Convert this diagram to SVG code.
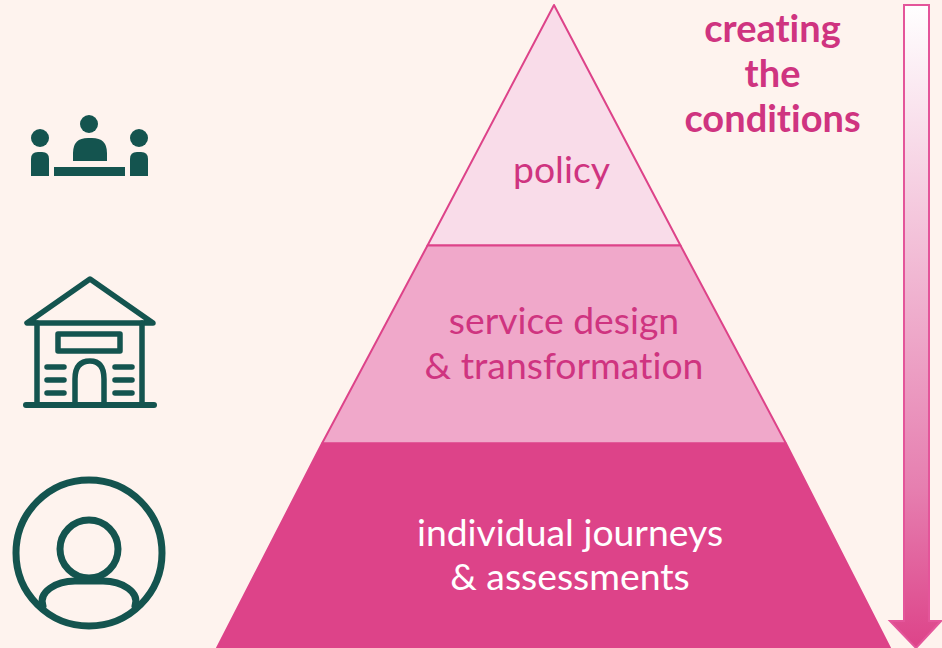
<svg xmlns="http://www.w3.org/2000/svg" width="942" height="648" viewBox="0 0 942 648">
<style>
text{font-family:Lato,"Liberation Sans",sans-serif;font-size:37.33px;text-anchor:middle;font-variant-ligatures:none}
.p{fill:#cf3480}.w{fill:#fff}.b{font-weight:700;font-size:38px}
.t{stroke:#dd4389;stroke-width:2;stroke-linejoin:round}
.o{fill:none;stroke:#14544f;stroke-width:5;stroke-linecap:round;stroke-linejoin:round}
.g{fill:#14544f}
</style>
<defs><linearGradient id="a" x1="0" y1="0" x2="0" y2="1"><stop offset="0" stop-color="#fff"/><stop offset=".75" stop-color="#e67fb0"/><stop offset="1" stop-color="#dd4389"/></linearGradient></defs>
<rect width="942" height="648" fill="#fef3ee"/>
<g id="level-policy"><polygon class="t" points="554,5 680.5,245.5 427.5,245.5" fill="#f9dce9"/><text class="p" x="561.5" y="183">policy</text></g>
<g id="level-service"><polygon class="t" points="427.5,245.5 680.5,245.5 786,443.5 322,443.5" fill="#f0a8ca"/><text class="p" x="564" y="334">service design</text><text class="p" x="564" y="379">&amp; transformation</text></g>
<g id="level-individual"><polygon class="t" points="322,443.5 786,443.5 890,648 217,648" fill="#dd4389"/><text class="w" x="570" y="546">individual journeys</text><text class="w" x="570" y="590">&amp; assessments</text></g>
<g id="label-conditions"><text class="p b" x="772.5" y="42">creating</text><text class="p b" x="772.5" y="87">the</text><text class="p b" x="772.5" y="132">conditions</text></g>
<g id="connectors"><polygon points="904,5 929,5 929,621 941,621 916,648 890,621 904,621" fill="url(#a)" stroke="#e4559a" stroke-width="2"/></g>
<g id="icon-meeting" class="g"><circle cx="89" cy="124" r="9"/><path d="M73 161V153Q73 138 88 138H92Q107 138 107 153V161Z"/><circle cx="40" cy="138" r="9"/><path d="M31 176V159Q31 152 38 152H42Q49 152 49 159V176Z"/><circle cx="139" cy="138" r="9"/><path d="M130 176V159Q130 152 137 152H141Q148 152 148 159V176Z"/><rect x="54" y="167" width="71" height="9"/></g>
<g id="icon-building" class="o" style="stroke-width:5.5"><path d="M90 279L27 323H153Z"/><path d="M37 323V405M142 323V405"/><path d="M26 405H154" style="stroke-width:6"/><rect x="58" y="334" width="62" height="17"/><path d="M75 405V379Q75 361 90 361Q104 361 104 379V405"/><path d="M47 367H64M47 380H64M47 393H64M115 367H132M115 380H132M115 393H132"/></g>
<g id="icon-person" class="o" style="stroke-width:7"><circle cx="89" cy="553" r="73"/><circle cx="89" cy="549" r="29"/><path d="M43 606C38 592 56 581 75 581H103C122 581 140 592 135 606"/></g>
</svg>
